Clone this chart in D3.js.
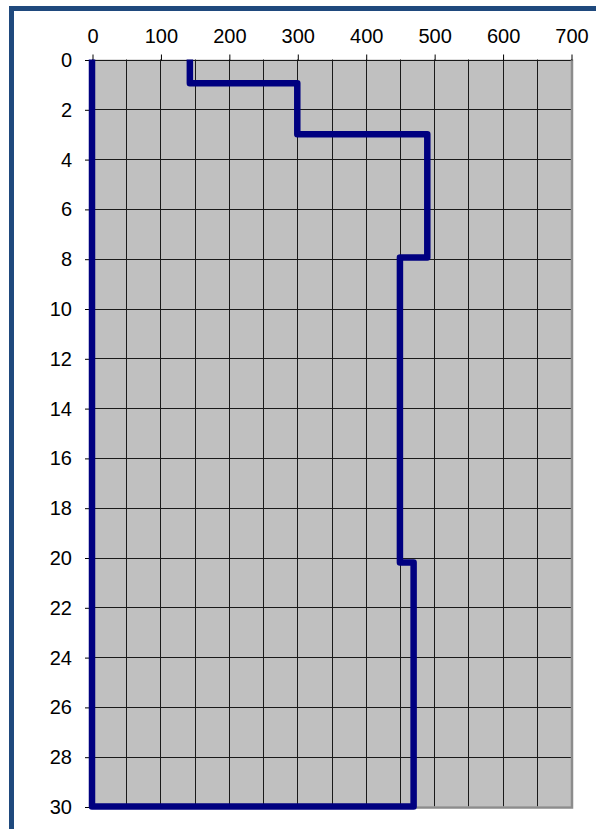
<!DOCTYPE html>
<html>
<head>
<meta charset="utf-8">
<script src="https://cdn.jsdelivr.net/npm/d3@7"></script>
<style>
  html, body { margin: 0; padding: 0; background: #fff; }
  svg { display: block; }
  text { font-family: "Liberation Sans", Arial, sans-serif; }
</style>
</head>
<body>
<script>
// ---- data ----
const xTickValues = [0, 100, 200, 300, 400, 500, 600, 700];
const yTickValues = [0, 2, 4, 6, 8, 10, 12, 14, 16, 18, 20, 22, 24, 26, 28, 30];
const xGridValues = [0, 50, 100, 150, 200, 250, 300, 350, 400, 450, 500, 550, 600, 650, 700];
// step profile (value, depth)
const profileValues = [143, 143, 300, 300, 490, 490, 450, 450, 470, 470, 0, 0];
const profileDepths = [0, 0.95, 0.95, 3, 3, 7.95, 7.95, 20.2, 20.2, 30, 30, 0];

const W = 596, H = 829;
const svg = d3.select("body").append("svg").attr("width", W).attr("height", H);

// outer frame
svg.append("rect")
  .attr("x", 11.5).attr("y", 8.5)
  .attr("width", 700).attr("height", 900)
  .attr("fill", "#fff")
  .attr("stroke", "#1F497D").attr("stroke-width", 5);

const x = d3.scaleLinear().domain([0, 700]).range([92, 571]);
const y = d3.scaleLinear().domain([0, 30]).range([59.5, 806.5]);

// plot area
svg.append("rect")
  .attr("x", x(0)).attr("y", y(0))
  .attr("width", x(700) - x(0)).attr("height", y(30) - y(0))
  .attr("fill", "#C0C0C0");

// grid
const grid = svg.append("g");
grid.selectAll("line.v").data(xGridValues).enter().append("line")
  .attr("x1", d => Math.round(x(d)) + 0.5).attr("x2", d => Math.round(x(d)) + 0.5)
  .attr("y1", y(0)).attr("y2", y(30))
  .attr("stroke", "#1a1a1a").attr("stroke-width", 1);
grid.selectAll("line.h").data(yTickValues).enter().append("line")
  .attr("y1", d => Math.round(y(d)) + 0.5).attr("y2", d => Math.round(y(d)) + 0.5)
  .attr("x1", x(0)).attr("x2", x(700))
  .attr("stroke", "#1a1a1a").attr("stroke-width", 1);

// right and bottom border (grey)
svg.append("path")
  .attr("d", `M${x(700) + 1},${y(0)} L${x(700) + 1},${y(30) + 1} L${x(0)},${y(30) + 1}`)
  .attr("fill", "none").attr("stroke", "#8c8c8c").attr("stroke-width", 2.5);

// axes
const xAxis = d3.axisTop(x).tickValues(xTickValues).tickSize(6).tickPadding(12).tickFormat(d3.format("d"));
const gx = svg.append("g").attr("transform", `translate(0.5,${Math.round(y(0)) + 0.5})`).call(xAxis);
gx.select(".domain").remove();
gx.selectAll(".tick line").attr("stroke", "#000");
gx.selectAll(".tick text").attr("font-size", 20).attr("fill", "#000");

const yAxis = d3.axisLeft(y).tickValues(yTickValues).tickSize(7).tickPadding(13).tickFormat(d3.format("d"));
const gy = svg.append("g").attr("transform", `translate(${x(0)},0.5)`).call(yAxis);
gy.select(".domain").remove();
gy.selectAll(".tick line").attr("stroke", "#000");
gy.selectAll(".tick text").attr("font-size", 20).attr("fill", "#000");

// profile line
const pts = profileValues.map((v, i) => [v, profileDepths[i]]);
const line = d3.line().x(d => x(d[0])).y(d => y(d[1]));
svg.append("path")
  .attr("d", line(pts))
  .attr("fill", "none")
  .attr("stroke", "#000080")
  .attr("stroke-width", 6.5)
  .attr("stroke-linejoin", "round")
  .attr("stroke-linecap", "butt");
</script>
</body>
</html>
